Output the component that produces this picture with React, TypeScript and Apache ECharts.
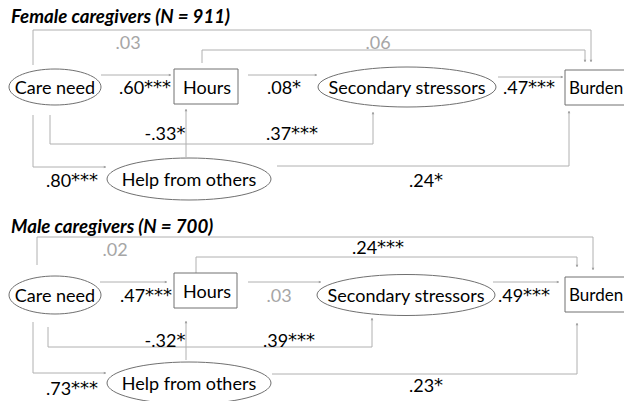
import React, { useEffect, useRef } from "react";
import * as echarts from "echarts";

// ---- data ----
const panelTitles = ["Female caregivers (N = 911)", "Male caregivers (N = 700)"];
const nodeNames = ["Care need", "Hours", "Secondary stressors", "Burden", "Help from others"];
// path order: CN→Burden, Hours→Burden, CN→Hours, Hours→SS, SS→Burden, Help→Hours, CN→SS, CN→Help, Help→Burden
const femaleCoefs = [".03", ".06", ".60***", ".08*", ".47***", "-.33*", ".37***", ".80***", ".24*"];
const femaleSig = [false, false, true, true, true, true, true, true, true];
const maleCoefs = [".02", ".24***", ".47***", ".03", ".49***", "-.32*", ".39***", ".73***", ".23*"];
const maleSig = [false, true, true, false, true, true, true, true, true];

// ---- layout ----
type Pt = [number, number];
interface Layout {
  titleY: number;
  shapes: any[];
  paths: Pt[][];
  labels: Pt[];
}

const femaleLayout: Layout = {
  titleY: 16,
  shapes: [
    { kind: "ellipse", cx: 55, cy: 87, rx: 46, ry: 18 },
    { kind: "rect", x: 174, y: 69, w: 64, h: 35, tx: 9, fs: 18 },
    { kind: "ellipse", cx: 407, cy: 87, rx: 89, ry: 20 },
    { kind: "rect", x: 565, y: 70, w: 70, h: 35, tx: 4, fs: 17 },
    { kind: "ellipse", cx: 189, cy: 179, rx: 82, ry: 21 },
  ],
  paths: [
    [[33, 65], [33, 30], [591, 30], [591, 62]],
    [[202, 63], [202, 50], [585, 50], [585, 62]],
    [[101, 75], [171, 75]],
    [[248, 75], [317, 75]],
    [[498, 77], [563, 77]],
    [[186, 157], [186, 109]],
    [[50, 115], [50, 144], [373, 144], [373, 112]],
    [[33, 115], [33, 167], [106, 167]],
    [[277, 166], [569, 166], [569, 111]],
  ],
  labels: [
    [128, 42], [378, 42], [145, 87], [284, 87], [529, 87],
    [165, 133], [292, 133], [72, 180], [426, 180],
  ],
};

const maleLayout: Layout = {
  titleY: 226,
  shapes: [
    { kind: "ellipse", cx: 55, cy: 295, rx: 46, ry: 19 },
    { kind: "rect", x: 174, y: 273, w: 63, h: 35, tx: 9, fs: 18 },
    { kind: "ellipse", cx: 406, cy: 295, rx: 89, ry: 20.5 },
    { kind: "rect", x: 565, y: 277, w: 70, h: 35, tx: 4, fs: 17 },
    { kind: "ellipse", cx: 189, cy: 383, rx: 82, ry: 21 },
  ],
  paths: [
    [[37, 265], [37, 237], [593, 237], [593, 270]],
    [[196, 273], [196, 257], [577, 257], [577, 267]],
    [[100, 282], [167, 282]],
    [[248, 282], [321, 282]],
    [[493, 282], [559, 282]],
    [[186, 360], [186, 321]],
    [[48, 327], [48, 347], [372, 347], [372, 318]],
    [[33, 322], [33, 373], [106, 373]],
    [[272, 374], [577, 374], [577, 323]],
  ],
  labels: [
    [115, 249], [378, 247], [146, 295], [279, 295], [524, 295],
    [165, 340], [289, 340], [72, 388], [426, 385],
  ],
};

const FONT = "Lato, 'Open Sans', sans-serif";
const LINE = "#b0b0b0";
const BORDER = "#707070";
const GRAY_TEXT = "#a6a6a6";

function arrowHead(p: Pt[], size = 2.2): any {
  const a = p[p.length - 2];
  const b = p[p.length - 1];
  const dx = b[0] - a[0];
  const dy = b[1] - a[1];
  const len = Math.hypot(dx, dy) || 1;
  const ux = dx / len;
  const uy = dy / len;
  const bx = b[0] - ux * size;
  const by = b[1] - uy * size;
  const px = -uy * size * 0.6;
  const py = ux * size * 0.6;
  return {
    type: "polygon",
    silent: true,
    shape: { points: [[b[0], b[1]], [bx + px, by + py], [bx - px, by - py]] },
    style: { fill: "#999" },
  };
}

function coefText(c: string): { num: string; stars: string } {
  const m = c.match(/^([^*]*)(\**)$/);
  return { num: m ? m[1] : c, stars: m ? m[2] : "" };
}

function buildPanel(title: string, coefs: string[], sig: boolean[], L: Layout): any[] {
  const els: any[] = [];
  els.push({
    type: "text",
    x: 11,
    y: L.titleY,
    style: {
      text: title,
      font: `italic bold 18.7px ${FONT}`,
      fill: "#000",
      verticalAlign: "middle",
      align: "left",
    },
  });
  L.paths.forEach((p) => {
    els.push({
      type: "polyline",
      silent: true,
      shape: { points: p },
      style: { stroke: LINE, lineWidth: 1, fill: null },
    });
    els.push(arrowHead(p));
  });
  L.shapes.forEach((s, i) => {
    if (s.kind === "ellipse") {
      els.push({
        type: "ellipse",
        shape: { cx: s.cx, cy: s.cy, rx: s.rx, ry: s.ry },
        style: { fill: "#fff", stroke: BORDER, lineWidth: 1 },
      });
      els.push({
        type: "text",
        x: s.cx,
        y: s.cy,
        style: { text: nodeNames[i], font: `18px ${FONT}`, fill: "#000", align: "center", verticalAlign: "middle" },
      });
    } else {
      els.push({
        type: "rect",
        shape: { x: s.x, y: s.y, width: s.w, height: s.h },
        style: { fill: "#fff", stroke: BORDER, lineWidth: 1 },
      });
      els.push({
        type: "text",
        x: s.x + s.tx,
        y: s.y + s.h / 2,
        style: { text: nodeNames[i], font: `${s.fs}px ${FONT}`, fill: "#000", align: "left", verticalAlign: "middle" },
      });
    }
  });
  coefs.forEach((c, i) => {
    const [x, y] = L.labels[i];
    const { num, stars } = coefText(c);
    const fill = sig[i] ? "#000" : GRAY_TEXT;
    els.push({
      type: "text",
      x,
      y,
      style: {
        text: stars ? `{n|${num}}{s|${stars}}` : num,
        font: `18px ${FONT}`,
        fill,
        align: "center",
        verticalAlign: "middle",
        rich: {
          n: { font: `18px ${FONT}`, fill, verticalAlign: "middle" },
          s: { font: `18px 'DejaVu Sans', sans-serif`, fill, verticalAlign: "middle", padding: [0, 0, 2, 0] },
        },
      },
    });
  });
  return els;
}

export default function App() {
  const ref = useRef<HTMLDivElement>(null);
  useEffect(() => {
    if (!ref.current) return;
    const chart = echarts.init(ref.current, null, { renderer: "svg" });
    chart.setOption({
      animation: false,
      backgroundColor: "#fff",
      graphic: [
        ...buildPanel(panelTitles[0], femaleCoefs, femaleSig, femaleLayout),
        ...buildPanel(panelTitles[1], maleCoefs, maleSig, maleLayout),
      ],
    });
    return () => chart.dispose();
  }, []);
  return (
    <div
      ref={ref}
      style={{ position: "fixed", left: 0, top: 0, width: 624, height: 401, background: "#fff" }}
    />
  );
}
